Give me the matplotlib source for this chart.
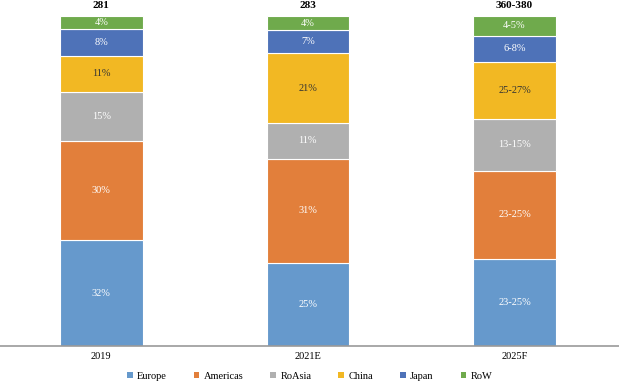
import matplotlib.pyplot as plt
from matplotlib.patches import Patch

plt.rcParams['font.family'] = ['Liberation Serif', 'DejaVu Serif']

# categories and totals
years = ['2019', '2021E', '2025F']
totals = ['281', '283', '360-380']

# segment heights (share of bar)
europe = [32, 25.2, 26.4]
americas = [30, 31.5, 26.7]
roasia = [15, 10.9, 15.8]
china = [11, 21.2, 17.3]
japan = [8, 7.0, 7.9]
row = [4, 4.2, 5.9]

# printed labels
europe_lbl = ['32%', '25%', '23-25%']
americas_lbl = ['30%', '31%', '23-25%']
roasia_lbl = ['15%', '11%', '13-15%']
china_lbl = ['11%', '21%', '25-27%']
japan_lbl = ['8%', '7%', '6-8%']
row_lbl = ['4%', '4%', '4-5%']

series = [
    ('Europe', europe, europe_lbl, '#6699CC', 'white'),
    ('Americas', americas, americas_lbl, '#E27F3B', 'white'),
    ('RoAsia', roasia, roasia_lbl, '#B0B0B0', 'white'),
    ('China', china, china_lbl, '#F2B823', '#333333'),
    ('Japan', japan, japan_lbl, '#4E72B8', 'white'),
    ('RoW', row, row_lbl, '#6FAA4C', 'white'),
]

fig = plt.figure(figsize=(6.19, 3.84), dpi=100)
ax = fig.add_axes([0, 0.099, 1, 0.859])

x = list(range(len(years)))
bottom = [0.0] * len(years)
handles = []
for name, vals, lbls, color, tcolor in series:
    ax.bar(x, vals, width=0.40, bottom=bottom, color=color,
           edgecolor='white', linewidth=0.8)
    for i in x:
        ax.text(i, bottom[i] + vals[i] / 2, lbls[i], ha='center', va='center',
                color=tcolor, fontsize=7.5)
    bottom = [b + v for b, v in zip(bottom, vals)]
    handles.append(Patch(facecolor=color, label=name))

for i in x:
    ax.text(i, bottom[i] + 1.8, totals[i], ha='center', va='bottom',
            fontsize=8, fontweight='bold', color='black')

ax.set_xlim(-0.49, 2.506)
ax.set_ylim(0, 100)
ax.set_xticks(x)
ax.set_xticklabels(years, fontsize=7.5)
ax.tick_params(axis='x', length=0, pad=4)
ax.set_yticks([])
for s in ['top', 'right', 'left']:
    ax.spines[s].set_visible(False)
ax.spines['bottom'].set_color('#999999')
ax.spines['bottom'].set_linewidth(1.2)

fig.legend(handles=handles, loc='center', bbox_to_anchor=(0.5, 0.02), ncol=6,
           frameon=False, fontsize=7.5, handlelength=0.55, handleheight=0.55,
           handletextpad=0.4, columnspacing=2.6)

fig.savefig('out.png', dpi=100)
